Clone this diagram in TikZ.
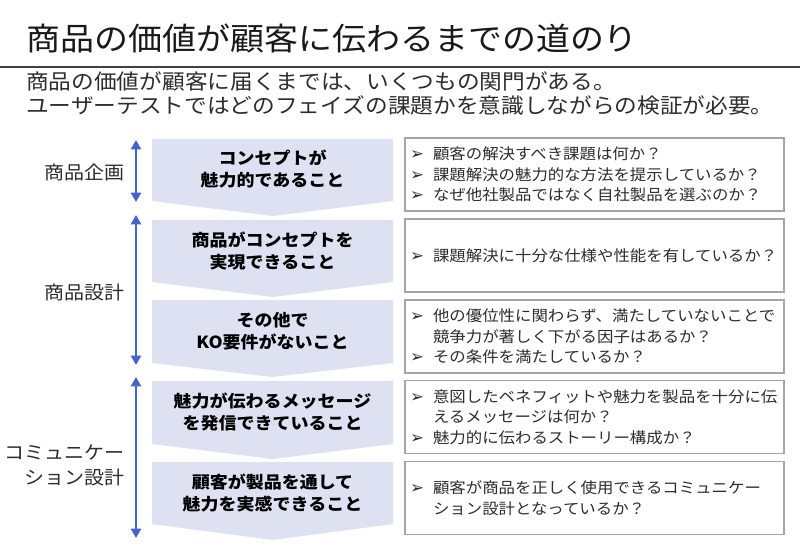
\documentclass[tikz,border=0pt]{standalone}
\usepackage{fontspec}
\setmainfont{Noto Sans CJK JP}[FakeStretch=1.08]
\newfontfamily\dv{DejaVu Sans}
\usetikzlibrary{arrows.meta}

\definecolor{chvfill}{RGB}{221,225,242}
\definecolor{arblue}{RGB}{68,100,204}
\definecolor{boxline}{RGB}{165,165,165}
\definecolor{txt}{RGB}{45,45,45}

\newcommand{\bul}{\makebox[17.25pt][l]{\dv\fontsize{12.5}{10}\selectfont ➢}}
\newcommand{\ind}{\hspace*{17.25pt}}

\tikzstyle{chv} = [fill = chvfill]
\tikzstyle{ch} = [align = center, inner sep = 0, text = black, font = \bfseries\fontsize{12.5}{16.5}\selectfont]
\tikzstyle{qb} = [draw = boxline, line width = 0.8pt, minimum width = 284.25pt, minimum height = 54.75pt, text width = 276.75pt, inner xsep = 3.75pt, align = left, text = txt, font = \fontsize{11.4}{15.4}\selectfont]
\tikzstyle{ph} = [anchor = east, align = right, inner sep = 0, text = txt, font = \fontsize{13.9}{18.75}\selectfont]
\tikzstyle{ar} = [draw = arblue, line width = 1.7pt, {Triangle[length = 7pt, width = 7.5pt]}-{Triangle[length = 7pt, width = 7.5pt]}]

\begin{document}
\begin{tikzpicture}[x = 0.75pt, y = -0.75pt]
        \fill[white] (0,0) rectangle (800,556);
        \useasboundingbox (0,0) rectangle (800,556);

        % title
        \node [anchor = west, inner sep = 0, text = black!90, font = \fontsize{23.6}{28}\selectfont] (title) at (26,38) {商品の価値が顧客に伝わるまでの道のり};
        \draw [line width = 1pt, black!75] (0,67) -- (800,67);
        \node [anchor = west, inner sep = 0, align = left, text = txt, font = \fontsize{15.75}{18}\selectfont] (sub) at (26,94) {商品の価値が顧客に届くまでは、いくつもの関門がある。\\ユーザーテストではどのフェイズの課題かを意識しながらの検証が必要。};

        % phases
        \node [ph] (plan) at (125,172) {商品企画};
        \node [ph] (design) at (125,292) {商品設計};
        \node [ph] (comm) at (125,465.5) {コミュニケー\\ション設計};

        \coordinate (p1t) at (136,140);
        \coordinate (p1b) at (136,202);
        \coordinate (p2t) at (136,215);
        \coordinate (p2b) at (136,365);
        \coordinate (p3t) at (136,377);
        \coordinate (p3b) at (136,538);
        \draw [ar] (p1t) -- (p1b);
        \draw [ar] (p2t) -- (p2b);
        \draw [ar] (p3t) -- (p3b);

        % chevrons
        \fill [chv] (152,139) -- (393,139) -- (393,201) -- (272.5,216) -- (152,201) -- cycle;
        \fill [chv] (152,220) -- (393,220) -- (393,282) -- (272.5,297) -- (152,282) -- cycle;
        \fill [chv] (152,300) -- (393,300) -- (393,363) -- (272.5,377) -- (152,363) -- cycle;
        \fill [chv] (152,381) -- (393,381) -- (393,444) -- (272.5,459) -- (152,444) -- cycle;
        \fill [chv] (152,462) -- (393,462) -- (393,524) -- (272.5,540) -- (152,524) -- cycle;

        \node [ch] (c1) at (272.5,169) {コンセプトが\\魅力的であること};
        \node [ch] (c2) at (272.5,251) {商品がコンセプトを\\実現できること};
        \node [ch] (c3) at (272.5,331) {その他で\\KO要件がないこと};
        \node [ch] (c4) at (272.5,412) {魅力が伝わるメッセージ\\を発信できていること};
        \node [ch] (c5) at (272.5,493) {顧客が製品を通して\\魅力を実感できること};

        % questions
        \node [qb] (q1) at (594.5,174.5) {\bul 顧客の解決すべき課題は何か？\\\bul 課題解決の魅力的な方法を提示しているか？\\\bul なぜ他社製品ではなく自社製品を選ぶのか？};
        \node [qb] (q2) at (594.5,255.5) {\bul 課題解決に十分な仕様や性能を有しているか？};
        \node [qb] (q3) at (594.5,336.5) {\bul 他の優位性に関わらず、満たしていないことで\\\ind 競争力が著しく下がる因子はあるか？\\\bul その条件を満たしているか？};
        \node [qb] (q4) at (594.5,417) {\bul 意図したベネフィットや魅力を製品を十分に伝\\\ind えるメッセージは何か？\\\bul 魅力的に伝わるストーリー構成か？};
        \node [qb] (q5) at (594.5,498) {\bul 顧客が商品を正しく使用できるコミュニケー\\\ind ション設計となっているか？};
\end{tikzpicture}
\end{document}
